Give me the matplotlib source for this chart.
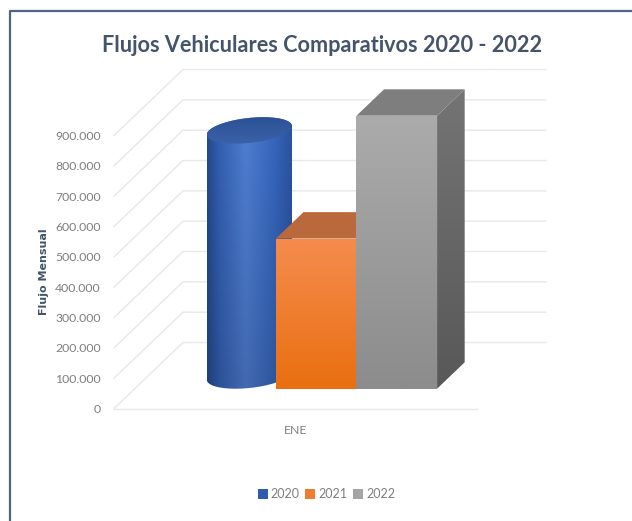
# -*- coding: utf-8 -*-
"""
Flujos vehiculares: columna 3D (cilindro + dos prismas) dibujada con proyeccion oblicua
"""

import numpy as np
import matplotlib
matplotlib.use('Agg')
import matplotlib.pyplot as plt
from matplotlib.lines import Line2D
from matplotlib.patches import Patch, Polygon
from matplotlib.colors import to_rgb

categories = ['ENE']
series_years = ['2020', '2021', '2022']
flujo_2020 = [808000]
flujo_2021 = [495000]
flujo_2022 = [900000]
y_ticks = [0, 100000, 200000, 300000, 400000, 500000, 600000, 700000, 800000, 900000]
y_tick_labels = ['0', '100.000', '200.000', '300.000', '400.000', '500.000',
                 '600.000', '700.000', '800.000', '900.000']

FONT = ['Lato', 'DejaVu Sans']
TITLE_COLOR = '#44546A'
TEXT_COLOR = '#7F7F7F'
GRID_COLOR = '#E8E8E8'
W, H = 632, 521

# desplazamiento de la profundidad completa, en unidades de los ejes
DEPTH_X = 69 / 363
DEPTH_Y = 217600
BAR_W = 0.222
BAR_D0, BAR_D1 = 0.30, 0.70


def proj(x, v, d):
    return x + DEPTH_X * d, v + DEPTH_Y * d


def clip_image(ax, im, verts):
    # la imagen no debe quedar recortada por el rectangulo de los ejes
    im.set_clip_box(ax.figure.bbox)
    im.set_clip_path(Polygon(verts, closed=True, transform=ax.transData))


def gradient_fill(ax, verts, top, bottom, zorder):
    """Poligono relleno con degradado vertical."""
    verts = np.array(verts)
    c0, c1 = np.array(to_rgb(top)), np.array(to_rgb(bottom))
    t = np.linspace(0, 1, 128)[:, None, None]
    img = (1 - t) * c0[None, None, :] + t * c1[None, None, :]
    im = ax.imshow(img, aspect='auto', origin='upper', zorder=zorder, interpolation='bilinear',
                   extent=(verts[:, 0].min(), verts[:, 0].max(), verts[:, 1].min(), verts[:, 1].max()))
    clip_image(ax, im, verts)


def draw_prism(ax, x, v, front, side, top_c, zorder):
    xl, xr = x - BAR_W / 2, x + BAR_W / 2
    fl0 = proj(xl, 0, BAR_D0)
    fr0 = proj(xr, 0, BAR_D0)
    fl1 = proj(xl, v, BAR_D0)
    fr1 = proj(xr, v, BAR_D0)
    br0 = proj(xr, 0, BAR_D1)
    br1 = proj(xr, v, BAR_D1)
    bl1 = proj(xl, v, BAR_D1)
    gradient_fill(ax, [fr0, br0, br1, fr1], side[0], side[1], zorder)
    gradient_fill(ax, [fl0, fr0, fr1, fl1], front[0], front[1], zorder + 0.1)
    ax.add_patch(Polygon([fl1, fr1, br1, bl1], closed=True, facecolor=top_c, edgecolor='none',
                         zorder=zorder + 0.2, clip_on=False))


def draw_cylinder(ax, x, v, zorder):
    dm = (BAR_D0 + BAR_D1) / 2
    dr = (BAR_D1 - BAR_D0) / 2
    t0 = np.arctan2(DEPTH_X * dr, BAR_W / 2)

    def ring(val, t):
        return np.column_stack([x + BAR_W / 2 * np.cos(t) + DEPTH_X * (dm + dr * np.sin(t)),
                                val + DEPTH_Y * (dm + dr * np.sin(t))])

    front_arc = ring(0, np.linspace(t0 + np.pi, t0 + 2 * np.pi, 80))
    back_arc = ring(v, np.linspace(t0, t0 + np.pi, 80))
    body = np.vstack([front_arc, back_arc])

    # degradado horizontal (oscuro en los bordes) por vertical (mas oscuro abajo)
    stops = [0.0, 0.15, 0.45, 0.8, 1.0]
    shades = [to_rgb(c) for c in ['#234A8E', '#3561B4', '#4F7ED2', '#3565BC', '#2A529F']]
    s = np.linspace(0, 1, 128)
    row = np.column_stack([np.interp(s, stops, [c[i] for c in shades]) for i in range(3)])
    fade = np.linspace(1.0, 0.84, 128)[:, None, None]
    img = row[None, :, :] * fade
    im = ax.imshow(img, aspect='auto', origin='upper', zorder=zorder, interpolation='bilinear',
                   extent=(body[:, 0].min(), body[:, 0].max(), body[:, 1].min(), body[:, 1].max()))
    clip_image(ax, im, body)

    cap = ring(v, np.linspace(0, 2 * np.pi, 160))
    gradient_fill(ax, cap, '#2C5296', '#3A62A8', zorder + 0.1)


fig = plt.figure(figsize=(W / 100, H / 100), dpi=100, facecolor='white')
ax = fig.add_axes([114 / W, 1 - 408.5 / H, 363 / W, 273 / H])
ax.patch.set_visible(False)
for sp in ax.spines.values():
    sp.set_visible(False)

# pared y suelo
x_left, x_right = -0.5, 0.5
for v in y_ticks:
    xs, ys = zip(proj(x_left, v, 0), proj(x_left, v, 1), proj(x_right, v, 1))
    ax.plot(xs, ys, color=GRID_COLOR, linewidth=1.0, clip_on=False, zorder=1)
ax.plot([x_left, x_right], [0, 0], color=GRID_COLOR, linewidth=1.0, clip_on=False, zorder=1)

x_pos = np.arange(len(categories), dtype=float)
for i in range(len(categories)):
    draw_cylinder(ax, x_pos[i] - BAR_W, flujo_2020[i], 2)
    draw_prism(ax, x_pos[i], flujo_2021[i], ('#F58C4E', '#E96F10'), ('#B05E30', '#B05E30'), '#B9693C', 3)
    draw_prism(ax, x_pos[i] + BAR_W, flujo_2022[i], ('#ABABAB', '#8C8C8C'), ('#747474', '#585858'), '#7E7E7E', 4)

ax.set_xlim(x_left, x_right)
ax.set_ylim(0, 900000)
ax.set_xticks(x_pos, categories, family=FONT, fontsize=8.8, color=TEXT_COLOR)
ax.set_yticks(y_ticks, y_tick_labels, family=FONT, fontsize=8.8, color=TEXT_COLOR)
ax.tick_params(axis='y', length=0, pad=9.5)
ax.tick_params(axis='x', length=0, pad=12)

ax.set_ylabel('Flujo Mensual', family='DejaVu Sans', fontweight='bold', fontsize=8, color=TITLE_COLOR)
ax.yaxis.set_label_coords(-0.178, 0.5)

fig.text(322 / W, 1 - 45 / H, 'Flujos Vehiculares Comparativos 2020 - 2022', family=FONT,
         fontsize=15.6, fontweight='bold', color=TITLE_COLOR, ha='center', va='center')

legend_colors = ['#2F5CAE', '#ED7D31', '#A5A5A5']
handles = [Patch(facecolor=c, edgecolor='none', label=y) for c, y in zip(legend_colors, series_years)]
fig.legend(handles=handles, loc='center', bbox_to_anchor=(326.5 / W, 1 - 494.5 / H), ncol=3, frameon=False,
           prop={'family': FONT, 'size': 9}, labelcolor=TEXT_COLOR, handlelength=0.8, handleheight=0.8,
           handletextpad=0.25, columnspacing=0.45)

# marco exterior recortado por la derecha y por abajo
fig.add_artist(Line2D([9.5 / W, 9.5 / W, 1], [0, 1 - 10.5 / H, 1 - 10.5 / H], color='#4F6585', linewidth=1.6))

fig.savefig('out.png', dpi=100, facecolor='white')
